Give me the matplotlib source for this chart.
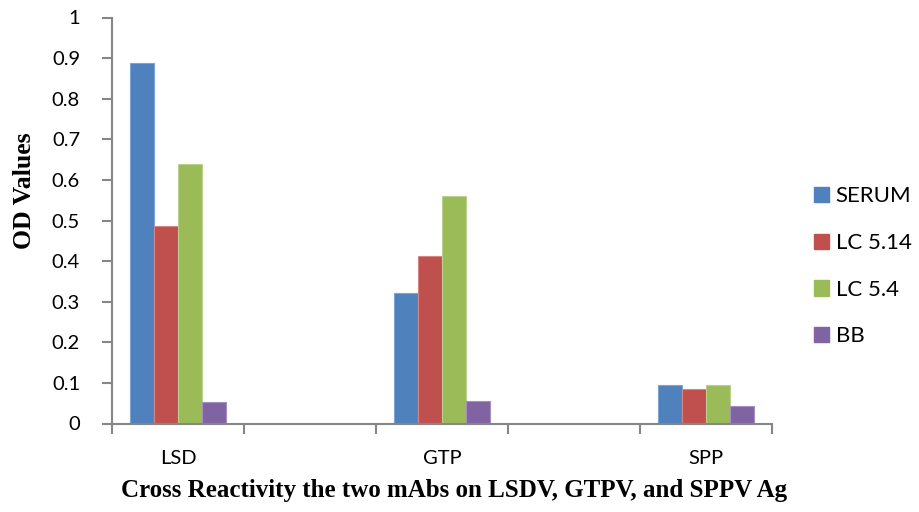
import numpy as np
import matplotlib
matplotlib.use("Agg")
import matplotlib.pyplot as plt
from matplotlib.patches import Patch

categories = ["LSD", "", "GTP", "", "SPP"]
series_names = ["SERUM", "LC 5.14", "LC 5.4", "BB"]
serum = [0.887, np.nan, 0.322, np.nan, 0.094]
lc514 = [0.486, np.nan, 0.413, np.nan, 0.084]
lc54 = [0.638, np.nan, 0.561, np.nan, 0.095]
bb = [0.052, np.nan, 0.055, np.nan, 0.043]
colors = ["#4F81BD", "#C0504D", "#9BBB59", "#8064A2"]
edge_colors = ["#7FA3D1", "#D68583", "#B9D08E", "#A48FC0"]
y_ticks = [0, 0.1, 0.2, 0.3, 0.4, 0.5, 0.6, 0.7, 0.8, 0.9, 1]
y_tick_labels = ["0", "0.1", "0.2", "0.3", "0.4", "0.5", "0.6", "0.7", "0.8", "0.9", "1"]
x_title = "Cross Reactivity the two mAbs on LSDV, GTPV, and SPPV Ag"
y_title = "OD Values"

plt.rcParams['font.family'] = ['Lato', 'DejaVu Sans']

fig = plt.figure(figsize=(9.19, 5.12), dpi=100)
ax = fig.add_axes([112/919, 1-423.5/512, (772-112)/919, (423.5-17.5)/512])

all_series = [serum, lc514, lc54, bb]
n = len(all_series)
x = np.arange(len(categories))
bw = 1/(n + 1.5)
for i, (vals, c, ec) in enumerate(zip(all_series, colors, edge_colors)):
    off = (i - (n-1)/2) * bw
    ax.bar(x + off, vals, width=bw, color=c, edgecolor=ec, linewidth=0.8, zorder=2)

ax.set_xlim(-0.5, len(categories) - 0.5)
ax.set_ylim(0, 1)
ax.set_yticks(y_ticks)
ax.set_yticklabels(y_tick_labels, fontsize=14.5)
ax.set_xticks(x)
ax.set_xticklabels(categories, fontsize=14.5)
ax.set_xticks(np.arange(len(categories) + 1) - 0.5, minor=True)
ax.tick_params(axis='x', which='major', length=0, pad=19)
ax.tick_params(axis='x', which='minor', length=7, width=1.5, color="#868686", direction='out')
ax.tick_params(axis='y', which='major', length=7, width=1.5, color="#868686", direction='out', pad=16)

for s in ['top', 'right']:
    ax.spines[s].set_visible(False)
for s in ['left', 'bottom']:
    ax.spines[s].set_color("#868686")
    ax.spines[s].set_linewidth(1.5)

fig.text(454/919, 1-497/512, x_title, ha='center', va='baseline',
         fontsize=18, fontweight='bold', family=['Liberation Serif'])
fig.text(25/919, 1-190.5/512, y_title, ha='center', va='center', rotation=90,
         fontsize=18.5, fontweight='bold', family=['Liberation Serif'])

handles = [Patch(facecolor=c, edgecolor=c) for c in colors]
fig.legend(handles, series_names, loc='center left', bbox_to_anchor=(814/919, 1-266.5/512),
           frameon=False, fontsize=16, handlelength=0.68, handleheight=0.68,
           handletextpad=0.3, labelspacing=1.2, borderaxespad=0, borderpad=0)

fig.savefig("out.png", dpi=100)
